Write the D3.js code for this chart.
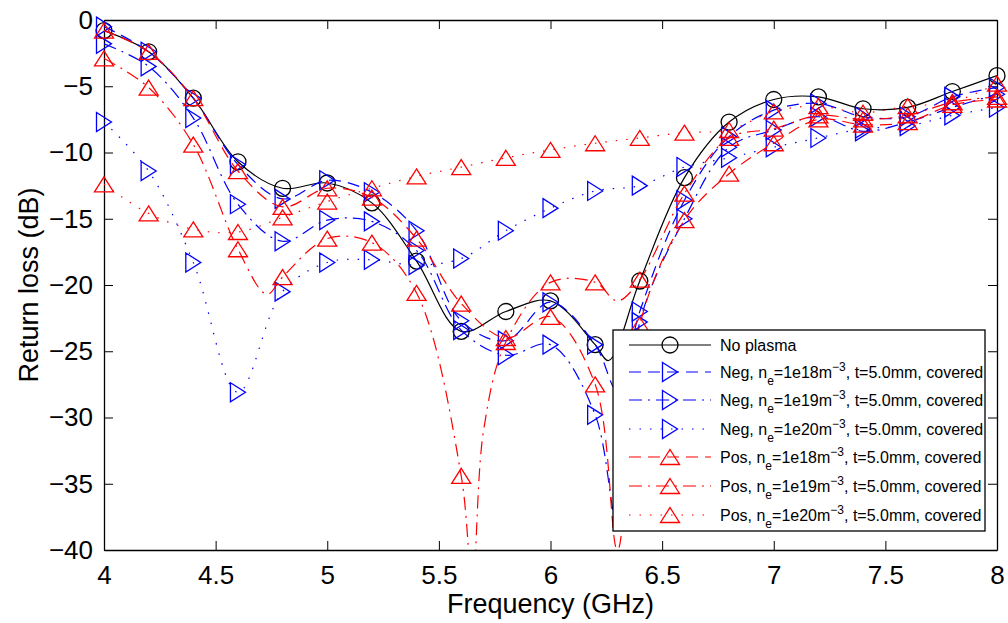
<!DOCTYPE html>
<html>
<head>
<meta charset="utf-8">
<script src="https://cdn.jsdelivr.net/npm/d3@7"></script>
<style>
  body { margin: 0; background: #fff; }
  svg { display: block; font-family: "Liberation Sans", Arial, Helvetica, sans-serif; }
</style>
</head>
<body>
<div id="chart"></div>
<script>
// data, one value per marker (every 0.2 GHz)
const freqs = [4.0, 4.2, 4.4, 4.6, 4.8, 5.0, 5.2, 5.4, 5.6, 5.8, 6.0, 6.2, 6.4, 6.6, 6.8, 7.0, 7.2, 7.4, 7.6, 7.8, 8.0];
const noPlasma = [-0.8, -2.4, -5.9, -10.7, -12.7, -12.3, -13.8, -18.2, -23.5, -22.0, -21.2, -24.5, -19.7, -11.9, -7.7, -6.0, -5.8, -6.7, -6.6, -5.4, -4.2];
const neg1e18 = [-0.5, -2.4, -5.9, -10.9, -13.5, -12.1, -13.0, -15.9, -22.7, -24.2, -21.3, -24.5, -22.0, -13.6, -8.8, -6.8, -6.3, -7.3, -7.3, -5.8, -5.1];
const neg1e19 = [-1.8, -3.5, -7.4, -13.9, -16.7, -15.1, -15.2, -17.4, -23.4, -25.3, -24.5, -29.8, -22.8, -15.0, -9.6, -8.3, -7.3, -8.4, -7.7, -6.6, -5.6];
const neg1e20 = [-7.7, -11.4, -18.3, -28.1, -20.5, -18.3, -18.1, -18.5, -18.0, -15.9, -14.2, -12.9, -12.5, -11.1, -10.4, -9.6, -8.9, -8.2, -8.0, -7.2, -6.6];
const pos1e18 = [-0.8, -2.4, -5.9, -11.4, -14.1, -12.7, -13.4, -16.5, -21.4, -24.0, -22.4, -27.5, -23.0, -15.1, -11.6, -9.3, -7.5, -7.9, -7.7, -6.4, -6.0];
const pos1e19 = [-2.9, -5.1, -9.4, -17.3, -19.4, -16.5, -16.8, -20.6, -34.4, -24.3, -19.8, -19.8, -19.6, -13.1, -8.9, -8.2, -7.2, -7.5, -7.2, -6.2, -5.8];
const pos1e20 = [-12.4, -14.6, -15.8, -16.0, -14.9, -13.7, -12.7, -11.8, -11.1, -10.4, -9.8, -9.3, -8.9, -8.5, -8.3, -6.9, -6.5, -7.0, -6.5, -6.2, -4.8];

// extra points between markers where the curves dip (line only, no marker)
const noPlasmaDip = [[6.26, -25.7]];
const neg1e18Dip = [[6.3, -28.0]];
const neg1e19Dip = [[6.3, -38.0]];
const pos1e18Dip = [[6.3, -40.0]];
const pos1e19Dip = [[4.73, -20.7], [5.65, -42.5], [5.7, -31.0], [6.3, -21.2]];

const xTicks = [4, 4.5, 5, 5.5, 6, 6.5, 7, 7.5, 8];
const xTickLabels = ["4", "4.5", "5", "5.5", "6", "6.5", "7", "7.5", "8"];
const yTicks = [-40, -35, -30, -25, -20, -15, -10, -5, 0];
const yTickLabels = ["\u221240", "\u221235", "\u221230", "\u221225", "\u221220", "\u221215", "\u221210", "\u22125", "0"];

const seriesNames = ["No plasma",
  "Neg, n_{e}=1e18m^{\u22123}, t=5.0mm, covered",
  "Neg, n_{e}=1e19m^{\u22123}, t=5.0mm, covered",
  "Neg, n_{e}=1e20m^{\u22123}, t=5.0mm, covered",
  "Pos, n_{e}=1e18m^{\u22123}, t=5.0mm, covered",
  "Pos, n_{e}=1e19m^{\u22123}, t=5.0mm, covered",
  "Pos, n_{e}=1e20m^{\u22123}, t=5.0mm, covered"];

const width = 1008;
const height = 623;
const margin = {left: 104, right: 11, top: 20, bottom: 73};

// style per series
const series = [
  {name: seriesNames[0], vals: noPlasma, dip: noPlasmaDip, color: "#000", dash: null, marker: "circle"},
  {name: seriesNames[1], vals: neg1e18, dip: neg1e18Dip, color: "#0000ff", dash: "12,7", marker: "right"},
  {name: seriesNames[2], vals: neg1e19, dip: neg1e19Dip, color: "#0000ff", dash: "13,6,2,6", marker: "right"},
  {name: seriesNames[3], vals: neg1e20, dip: [], color: "#0000ff", dash: "1.5,9", marker: "right"},
  {name: seriesNames[4], vals: pos1e18, dip: pos1e18Dip, color: "#ff0000", dash: "12,7", marker: "up"},
  {name: seriesNames[5], vals: pos1e19, dip: pos1e19Dip, color: "#ff0000", dash: "13,6,2,6", marker: "up"},
  {name: seriesNames[6], vals: pos1e20, dip: [], color: "#ff0000", dash: "1.5,9", marker: "up"}
];

const svg = d3.select("#chart").append("svg")
  .attr("width", width)
  .attr("height", height);

const xScale = d3.scaleLinear().domain([4, 8]).range([margin.left, width - margin.right]);
const yScale = d3.scaleLinear().domain([-40, 0]).range([height - margin.bottom, margin.top]);

svg.append("clipPath").attr("id", "plotclip")
  .append("rect")
  .attr("x", margin.left).attr("y", margin.top)
  .attr("width", width - margin.left - margin.right)
  .attr("height", height - margin.top - margin.bottom);

// axes, MATLAB style box with ticks pointing in
const tickLen = 9;
svg.append("g")
  .attr("transform", `translate(0,${height - margin.bottom})`)
  .call(d3.axisBottom(xScale).tickValues(xTicks).tickFormat((d, i) => xTickLabels[i])
    .tickSizeInner(-tickLen).tickSizeOuter(0).tickPadding(16));
svg.append("g")
  .attr("transform", `translate(0,${margin.top})`)
  .call(d3.axisTop(xScale).tickValues(xTicks).tickFormat("")
    .tickSizeInner(-tickLen).tickSizeOuter(0));
svg.append("g")
  .attr("transform", `translate(${margin.left},0)`)
  .call(d3.axisLeft(yScale).tickValues(yTicks).tickFormat((d, i) => yTickLabels[i])
    .tickSizeInner(-tickLen).tickSizeOuter(0).tickPadding(11));
svg.append("g")
  .attr("transform", `translate(${width - margin.right},0)`)
  .call(d3.axisRight(yScale).tickValues(yTicks).tickFormat("")
    .tickSizeInner(-tickLen).tickSizeOuter(0));

svg.selectAll(".domain").attr("stroke", "#000").attr("stroke-width", 1.3);
svg.selectAll(".tick line").attr("stroke", "#000").attr("stroke-width", 1);
svg.selectAll(".tick text")
  .attr("fill", "#000")
  .style("font-size", "26px")
  .style("font-family", "'Liberation Sans', Arial, sans-serif");

// axis titles
svg.append("text")
  .attr("x", (margin.left + width - margin.right) / 2)
  .attr("y", 613)
  .attr("text-anchor", "middle")
  .style("font-size", "27px")
  .text("Frequency (GHz)");

svg.append("text")
  .attr("transform", `translate(38,${(margin.top + height - margin.bottom) / 2}) rotate(-90)`)
  .attr("text-anchor", "middle")
  .style("font-size", "27px")
  .text("Return loss (dB)");

// markers
function drawMarker(g, type, color) {
  if (type === "circle") {
    g.append("circle").attr("r", 8);
  } else if (type === "right") {
    g.append("path").attr("d", "M-7.5,-9.5L7.5,0L-7.5,9.5Z");
  } else {
    g.append("path").attr("d", "M0,-7.5L9.5,7.5L-9.5,7.5Z");
  }
  g.selectAll("*").attr("fill", "none").attr("stroke", color).attr("stroke-width", 1.3);
}

const line = d3.line()
  .x(d => xScale(d[0]))
  .y(d => yScale(d[1]))
  .curve(d3.curveCatmullRom.alpha(0.5));

series.forEach(s => {
  const pts = freqs.map((f, i) => [f, s.vals[i]]).concat(s.dip)
    .sort((a, b) => a[0] - b[0]);

  svg.append("path")
    .datum(pts)
    .attr("clip-path", "url(#plotclip)")
    .attr("fill", "none")
    .attr("stroke", s.color)
    .attr("stroke-width", 1.2)
    .attr("stroke-dasharray", s.dash)
    .attr("d", line);

  svg.append("g").selectAll("g")
    .data(freqs)
    .enter()
    .append("g")
      .attr("transform", (d, i) => `translate(${xScale(d)},${yScale(s.vals[i])})`)
      .each(function() { drawMarker(d3.select(this), s.marker, s.color); });
});

// legend
const legX = 613, legY = 330, legW = 372, legH = 201;
const rowY = [345, 372, 400, 429, 457, 486, 515];
const legend = svg.append("g");
legend.append("rect")
  .attr("x", legX).attr("y", legY)
  .attr("width", legW).attr("height", legH)
  .attr("fill", "#fff")
  .attr("stroke", "#000")
  .attr("stroke-width", 1.3);

series.forEach((s, i) => {
  const yy = rowY[i];
  legend.append("line")
    .attr("x1", 629).attr("x2", 711)
    .attr("y1", yy).attr("y2", yy)
    .attr("stroke", s.color)
    .attr("stroke-width", 1.2)
    .attr("stroke-dasharray", s.dash);
  const mg = legend.append("g").attr("transform", `translate(670,${yy})`);
  drawMarker(mg, s.marker, s.color);

  const txt = legend.append("text")
    .attr("x", 720).attr("y", yy + 6)
    .style("font-size", "16px");
  // split name into plain / _{sub} / ^{sup} parts
  const parts = s.name.split(/(_\{[^}]*\}|\^\{[^}]*\})/).filter(p => p.length);
  let shift = 0;
  parts.forEach(p => {
    let dy = 0, size = null, str = p;
    if (p.startsWith("_{")) { dy = 7; size = "12px"; str = p.slice(2, -1); }
    else if (p.startsWith("^{")) { dy = -7; size = "12px"; str = p.slice(2, -1); }
    const t = txt.append("tspan").attr("dy", dy - shift).text(str);
    if (size) t.style("font-size", size);
    shift = dy;
  });
});
</script>
</body>
</html>
